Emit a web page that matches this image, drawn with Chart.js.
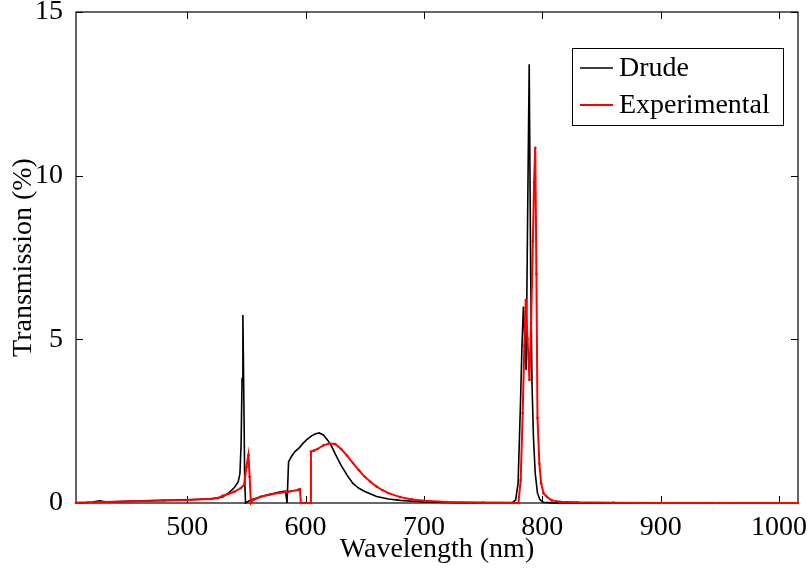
<!DOCTYPE html>
<html>
<head>
<meta charset="utf-8">
<script src="https://cdn.jsdelivr.net/npm/chart.js@4.4.1/dist/chart.umd.min.js"></script>
<style>
  html, body { margin: 0; padding: 0; background: #ffffff; }
  #wrap { width: 811px; height: 569px; }
</style>
</head>
<body>
<div id="wrap"><canvas id="c" width="811" height="569"></canvas></div>
<script>
// ---- Data ----
const drudeWl = [406, 415, 420, 426, 432, 450, 480, 500, 520, 530, 536, 540, 543, 544.5, 545.5, 546.3, 547, 547.8, 548.5, 549.2, 554, 565, 578.5, 583, 584.3, 585.6, 588, 591, 595, 598, 601, 605, 608, 611.5, 615, 618, 621, 625, 630, 635, 640, 645, 650, 660, 670, 680, 700, 730, 760, 775, 777.5, 779.5, 781.5, 782.8, 784, 785.2, 786.3, 787.5, 788.9, 790.2, 791.3, 792.5, 794, 795.9, 798, 801, 810, 850, 1016];
const drudeT  = [0.01, 0.02, 0.03, 0.07, 0.03, 0.05, 0.08, 0.1, 0.13, 0.18, 0.34, 0.48, 0.64, 0.9, 1.8, 3.8, 5.74, 3.2, 0.8, 0.0, 0.1, 0.22, 0.34, 0.36, 0.0, 1.26, 1.42, 1.57, 1.7, 1.83, 1.94, 2.05, 2.11, 2.14, 2.08, 1.95, 1.8, 1.5, 1.15, 0.85, 0.6, 0.45, 0.35, 0.2, 0.12, 0.08, 0.03, 0.01, 0.01, 0.02, 0.1, 0.6, 3.0, 4.8, 6.0, 5.0, 4.06, 8.5, 13.4, 6.8, 3.6, 2.0, 0.9, 0.3, 0.1, 0.02, 0.0, 0.0, 0.0];

const expWl = [406, 430, 450, 480, 500, 520, 526, 530, 535, 540, 545, 548, 550, 551.7, 552.7, 553.8, 556, 562, 570, 578.5, 586, 593.7, 595.2, 596, 600, 604.3, 604.5, 607, 610, 615, 620, 625, 630, 635, 640, 645, 650, 655, 660, 665, 670, 680, 690, 700, 720, 750, 775, 779.8, 781.7, 783.4, 784.8, 786, 787.5, 789.1, 790.5, 792, 793, 794, 795, 795.9, 797.5, 799, 801, 803.8, 808, 815, 830, 860, 900, 950, 1016];
const expT  = [0.0, 0.03, 0.05, 0.08, 0.09, 0.12, 0.15, 0.22, 0.28, 0.35, 0.45, 0.55, 1.1, 1.47, 0.8, 0.0, 0.1, 0.19, 0.26, 0.31, 0.35, 0.4, 0.42, 0.0, 0.0, 0.0, 1.57, 1.6, 1.65, 1.76, 1.82, 1.8, 1.65, 1.45, 1.22, 1.0, 0.8, 0.64, 0.5, 0.39, 0.3, 0.18, 0.11, 0.07, 0.03, 0.01, 0.0, 0.0, 0.7, 2.75, 4.8, 6.2, 5.0, 3.76, 5.5, 8.0, 9.8, 10.85, 7.0, 2.6, 1.2, 0.6, 0.3, 0.19, 0.08, 0.04, 0.02, 0.01, 0.0, 0.0, 0.0];

const xTicks = [500, 600, 700, 800, 900, 1000];
const yTicks = [0, 5, 10, 15];
const seriesNames = ['Drude', 'Experimental'];
const xTitle = 'Wavelength (nm)';
const yTitle = 'Transmission (%)';

const FONT = "'Liberation Serif', 'Times New Roman', serif";
const FS = 28;
const toPts = (xs, ys) => xs.map((x, i) => ({ x: x, y: ys[i] }));

// Box + inward ticks
const framePlugin = {
  id: 'frame',
  beforeDatasetsDraw(chart) {
    const { ctx, chartArea: a, scales } = chart;
    ctx.save();
    ctx.strokeStyle = '#000';
    ctx.lineWidth = 1.2;
    ctx.strokeRect(a.left, a.top, a.right - a.left, a.bottom - a.top);
    const tl = 7;
    ctx.beginPath();
    xTicks.forEach(v => {
      const px = Math.round(scales.x.getPixelForValue(v)) + 0.5;
      ctx.moveTo(px, a.bottom); ctx.lineTo(px, a.bottom - tl);
      ctx.moveTo(px, a.top); ctx.lineTo(px, a.top + tl);
    });
    yTicks.forEach(v => {
      const py = Math.round(scales.y.getPixelForValue(v)) + 0.5;
      ctx.moveTo(a.left, py); ctx.lineTo(a.left + tl, py);
      ctx.moveTo(a.right, py); ctx.lineTo(a.right - tl, py);
    });
    ctx.lineWidth = 1;
    ctx.stroke();
    ctx.restore();
  }
};

// Legend box inside the plot
const legendPlugin = {
  id: 'boxLegend',
  afterDatasetsDraw(chart) {
    const { ctx } = chart;
    const bx = 572, by = 48, bw = 211, bh = 77;
    ctx.save();
    ctx.fillStyle = '#fff';
    ctx.fillRect(bx, by, bw, bh);
    ctx.strokeStyle = '#000';
    ctx.lineWidth = 1;
    ctx.strokeRect(bx + 0.5, by + 0.5, bw, bh);
    ctx.font = FS + "px " + FONT;
    ctx.textBaseline = 'middle';
    ctx.textAlign = 'left';
    chart.data.datasets.forEach((ds, i) => {
      const cy = by + 20 + i * 37;
      ctx.strokeStyle = ds.borderColor;
      ctx.lineWidth = ds.borderWidth;
      ctx.beginPath();
      ctx.moveTo(bx + 8, cy); ctx.lineTo(bx + 41, cy);
      ctx.stroke();
      if (ds.pointRadius > 0) {
        ctx.fillStyle = ds.borderColor;
        ctx.beginPath();
        ctx.arc(bx + 24.5, cy, ds.pointRadius, 0, Math.PI * 2);
        ctx.fill();
      }
      ctx.fillStyle = '#000';
      ctx.fillText(ds.label, bx + 47, cy + 1);
    });
    ctx.restore();
  }
};

new Chart(document.getElementById('c'), {
  type: 'line',
  data: {
    datasets: [
      {
        label: seriesNames[0],
        data: toPts(drudeWl, drudeT),
        borderColor: '#000000',
        borderWidth: 1.6,
        pointRadius: 0,
        tension: 0,
        order: 1,
        clip: 4
      },
      {
        label: seriesNames[1],
        data: toPts(expWl, expT),
        borderColor: '#ff0000',
        backgroundColor: '#ff0000',
        borderWidth: 2,
        pointRadius: 1.3,
        pointBorderWidth: 0,
        pointBackgroundColor: '#ff0000',
        tension: 0,
        order: 0,
        clip: 4
      }
    ]
  },
  options: {
    responsive: false,
    animation: false,
    events: [],
    layout: { padding: { top: 12, right: 13, left: 0, bottom: 0 } },
    plugins: {
      legend: { display: false },
      tooltip: { enabled: false }
    },
    scales: {
      x: {
        type: 'linear',
        min: 406,
        max: 1016,
        afterBuildTicks: s => { s.ticks = xTicks.map(v => ({ value: v })); },
        afterFit: s => { s.height = 66; s.paddingLeft = 0; s.paddingRight = 0; },
        grid: { display: false },
        border: { display: false },
        ticks: {
          color: '#000',
          font: { family: FONT, size: FS },
          padding: 0,
          maxRotation: 0,
          autoSkip: false,
          callback: v => String(v)
        },
        title: {
          display: true,
          text: xTitle,
          color: '#000',
          font: { family: FONT, size: FS },
          padding: { top: 0, bottom: 3 }
        }
      },
      y: {
        type: 'linear',
        min: 0,
        max: 15,
        afterBuildTicks: s => { s.ticks = yTicks.map(v => ({ value: v })); },
        afterFit: s => { s.width = 76; s.paddingTop = 0; s.paddingBottom = 0; },
        grid: { display: false },
        border: { display: false },
        ticks: {
          color: '#000',
          font: { family: FONT, size: FS },
          padding: 5,
          callback: v => String(v)
        },
        title: {
          display: true,
          text: yTitle,
          color: '#000',
          font: { family: FONT, size: FS },
          padding: { top: 7, bottom: 0 }
        }
      }
    }
  },
  plugins: [framePlugin, legendPlugin]
});
</script>
</body>
</html>
